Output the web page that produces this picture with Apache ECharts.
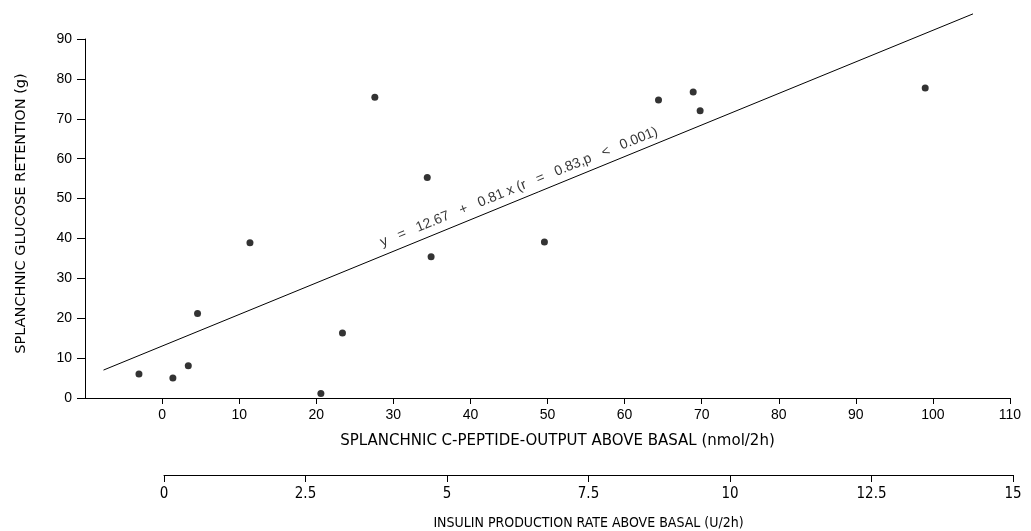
<!DOCTYPE html>
<html>
<head>
<meta charset="utf-8">
<script src="https://cdn.jsdelivr.net/npm/echarts@6/dist/echarts.min.js"></script>
<style>
html,body{margin:0;padding:0;background:#fff;}
#chart{width:1031px;height:531px;}
</style>
</head>
<body>
<div id="chart"></div>
<script>
// C-peptide output above basal (nmol/2h) vs splanchnic glucose retention (g)
var cPeptide = [-3.0, 1.4, 3.4, 4.6, 11.4, 20.6, 23.4, 27.6, 34.4, 34.9, 49.6, 64.4, 68.9, 69.8, 99.0];
var glucoseRetention = [6.0, 5.0, 8.1, 21.2, 38.9, 1.1, 16.3, 75.4, 55.3, 35.4, 39.1, 74.7, 76.7, 72.0, 77.7];
// regression line endpoints as drawn
var regX = [-7.6, 105.2];
var regY = [7.0, 96.3];
var regLabel = 'y   =   12.67   +   0.81 x (r   =   0.83,p   <   0.001)';
var regLabelAt = [46.3, 52.9];
var xTicks = [0, 10, 20, 30, 40, 50, 60, 70, 80, 90, 100, 110];
var yTicks = [0, 10, 20, 30, 40, 50, 60, 70, 80, 90];
var insulinTicks = [0, 2.5, 5, 7.5, 10, 12.5, 15];

var font = '"Liberation Sans", Arial, Helvetica, sans-serif';
var wide = '"DejaVu Sans", "Liberation Sans", sans-serif';
var narrow = '"Liberation Sans Narrow", "DejaVu Sans Condensed", "Liberation Sans", sans-serif';
var ink = '#000';

var points = cPeptide.map(function (x, i) { return [x, glucoseRetention[i]]; });
var reg = regX.map(function (x, i) { return [x, regY[i]]; });

var chart = echarts.init(document.getElementById('chart'), null, {renderer: 'canvas'});
chart.setOption({
  backgroundColor: '#fff',
  animation: false,
  grid: [
    {left: 85, right: 21, top: 39, bottom: 133},
    {left: 164, right: 18, top: 470, bottom: 51}
  ],
  xAxis: [
    {
      type: 'value', gridIndex: 0, min: -10, max: 110, interval: 10,
      name: 'SPLANCHNIC C-PEPTIDE-OUTPUT ABOVE BASAL (nmol/2h)',
      nameLocation: 'middle', nameGap: 36,
      nameTextStyle: {fontFamily: wide, fontSize: 15, color: ink, padding: [0, 0, 0, 20]},
      axisLine: {onZero: false, lineStyle: {color: ink, width: 1}},
      axisTick: {show: true, length: 6, customValues: xTicks, lineStyle: {color: ink}},
      axisLabel: {
        customValues: xTicks, margin: 10, fontFamily: font, fontSize: 14, color: ink,
        formatter: function (v) { return v < 0 ? '' : String(v); }
      },
      splitLine: {show: false}
    },
    {
      type: 'value', gridIndex: 1, min: 0, max: 15, interval: 2.5,
      name: 'INSULIN PRODUCTION RATE ABOVE BASAL (U/2h)',
      nameLocation: 'middle', nameGap: 41,
      nameTextStyle: {fontFamily: narrow, fontSize: 14, color: ink},
      axisLine: {onZero: false, lineStyle: {color: ink, width: 1}},
      axisTick: {show: true, length: 7, customValues: insulinTicks, lineStyle: {color: ink}},
      axisLabel: {customValues: insulinTicks, margin: 12, fontFamily: narrow, fontSize: 15, color: ink},
      splitLine: {show: false}
    }
  ],
  yAxis: [
    {
      type: 'value', gridIndex: 0, min: 0, max: 90, interval: 10,
      name: 'SPLANCHNIC GLUCOSE RETENTION (g)',
      nameLocation: 'middle', nameGap: 56, nameRotate: 90,
      nameTextStyle: {fontFamily: wide, fontSize: 14.5, color: ink, padding: [0, 0, 0, 10]},
      axisLine: {show: true, onZero: false, lineStyle: {color: ink, width: 1}},
      axisTick: {show: true, length: 8, customValues: yTicks, lineStyle: {color: ink}},
      axisLabel: {customValues: yTicks, margin: 13, fontFamily: font, fontSize: 14, color: ink},
      splitLine: {show: false}
    },
    {
      type: 'value', gridIndex: 1, min: 0, max: 1, show: false
    }
  ],
  series: [
    {
      type: 'line', xAxisIndex: 0, yAxisIndex: 0,
      data: reg, symbol: 'none', clip: false, silent: true,
      lineStyle: {color: ink, width: 1}
    },
    {
      type: 'scatter', xAxisIndex: 0, yAxisIndex: 0,
      data: points, symbol: 'circle', symbolSize: 7, clip: false,
      itemStyle: {color: ink}
    },
    {
      type: 'scatter', xAxisIndex: 0, yAxisIndex: 0,
      data: [regLabelAt], symbolSize: 0, silent: true,
      label: {
        show: true, position: 'inside', rotate: 22, formatter: regLabel,
        fontFamily: font, fontSize: 14, color: ink
      }
    }
  ]
});
</script>
</body>
</html>
